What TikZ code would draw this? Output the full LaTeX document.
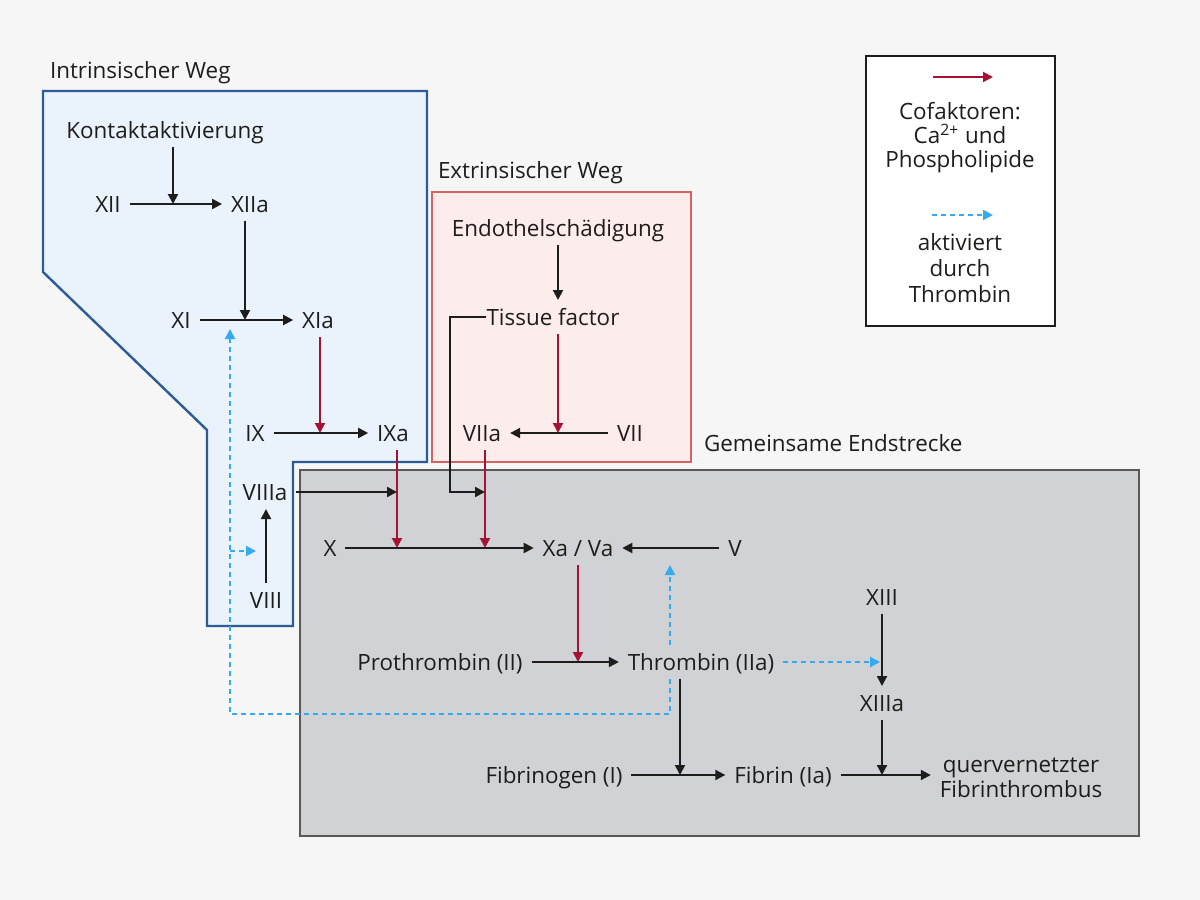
\documentclass[tikz,border=0pt]{standalone}
\usepackage{fontspec}
\setmainfont{Open Sans}
\usepackage{tikz}
\usetikzlibrary{positioning,arrows.meta}
\definecolor{colorintr}     {RGB}{44 ,92 ,150}
\definecolor{colorintrfill} {RGB}{234,242,251}
\definecolor{colorextr}     {RGB}{214,98 ,98 }
\definecolor{colorextrfill} {RGB}{252,236,236}
\definecolor{colorgem}      {RGB}{88 ,88 ,88 }
\definecolor{colorgemfill}  {RGB}{208,210,213}
\definecolor{colorcofak}    {RGB}{165,18 ,52 }
\definecolor{colorthromb}   {RGB}{52 ,170,240}
\definecolor{colortext}     {RGB}{29 ,29 ,27 }
\definecolor{colorbg}       {RGB}{246,246,246}

\begin{document}
\begin{tikzpicture}[
    x=0.5pt, y=-0.5pt,
    font={\fontsize{11.2}{12.5}\selectfont},
    >={Triangle[length=5pt,width=5pt]},
    base/.style={text=colortext,inner sep=0pt,outer sep=4.5pt,text height=8pt,text depth=0pt,align=center},
    title/.style={base,anchor=west,outer sep=0pt},
    conv/.style={->,line width=1pt,draw=colortext},
    cofak/.style={->,line width=1pt,draw=colorcofak},
    thromb/.style={->,line width=1pt,draw=colorthromb,dash pattern=on 2.5pt off 2pt},
    region/.style={line width=1.2pt},
]

    % Background
    \fill[colorbg] (0,0) rectangle (1200,900);
    \useasboundingbox (0,0) rectangle (1200,900);

    % Regions
    \draw[region,draw=colorintr,fill=colorintrfill] (43,91) -- (427,91) -- (427,462) -- (293,462)
        -- (293,626) -- (207,626) -- (207,430) -- (43,272) -- cycle;
    \draw[region,draw=colorextr,fill=colorextrfill] (432,192) rectangle (691,462);
    \draw[region,draw=colorgem,fill=colorgemfill] (300,470) rectangle (1139,836);
    \node[title] (intrtxt) at (50,70)  {Intrinsischer Weg};
    \node[title] (extrtxt) at (438,170) {Extrinsischer Weg};
    \node[title] (gemtxt)  at (704,443) {Gemeinsame Endstrecke};

    % Legend
    \draw[line width=1pt,draw=colortext,fill=white] (866,56) rectangle (1055,326);
    \coordinate (legcofak1)  at (933,77);
    \coordinate (legcofak2)  at (993,77);
    \coordinate (legthromb1) at (932,215);
    \coordinate (legthromb2) at (993,215);
    \draw[cofak]  (legcofak1)  -- (legcofak2);
    \draw[thromb] (legthromb1) -- (legthromb2);
    % multi-line nodes: placed by their last line
    \node[base,font={\fontsize{11.2}{12}\selectfont}] (cofaktxt)  at (960,159) {Cofaktoren:\\Ca\textsuperscript{2+} und\\Phospholipide};
    \node[base,font={\fontsize{11.2}{13}\selectfont}] (thrombtxt) at (960,294) {aktiviert\\durch\\Thrombin};

    % Nodes
    \node[base] (kontakt)    at (165,130) {Kontaktaktivierung};
    \node[base] (xii)        at (108,204) {XII};
    \node[base] (xiia)       at (250,204) {XIIa};
    \node[base] (xi)         at (181,320) {XI};
    \node[base] (xia)        at (318,320) {XIa};
    \node[base] (ix)         at (255,433) {IX};
    \node[base] (ixa)        at (393,433) {IXa};
    \node[base] (viiia)      at (265,492) {VIIIa};
    \node[base] (viii)       at (266,600) {VIII};
    \node[base] (endo)       at (558,228) {Endothelschädigung};
    \node[base] (tf)         at (553,317) {Tissue factor};
    \node[base] (viia)       at (482,433) {VIIa};
    \node[base] (vii)        at (630,433) {VII};
    \node[base] (x)          at (330,548) {X};
    \node[base] (xava)       at (578,548) {Xa / Va};
    \node[base] (v)          at (735,548) {V};
    \node[base] (prothr)     at (440,662) {Prothrombin (II)};
    \node[base] (thr)        at (701,662) {Thrombin (IIa)};
    \node[base] (xiii)       at (882,597) {XIII};
    \node[base] (xiiia)      at (882,703) {XIIIa};
    \node[base] (fibrinogen) at (554,775) {Fibrinogen (I)};
    \node[base] (fibrin)     at (783,775) {Fibrin (Ia)};
    \node[base,font={\fontsize{11.2}{12.5}\selectfont}] (quer) at (1021,789) {quervernetzter\\Fibrinthrombus};

    % Junctions on arrows
    \coordinate (kontaktin) at (173,204);
    \coordinate (xiiain)    at (245,320);
    \coordinate (xiain)     at (320,433);
    \coordinate (ixain)     at (397,548);
    \coordinate (tfin)      at (558,433);
    \coordinate (viiain)    at (485,548);
    \coordinate (tfbend)    at (450,492);
    \coordinate (xavain)    at (578,662);
    \coordinate (thrin)     at (680,775);
    \coordinate (xiiiain)   at (882,775);
    \coordinate (xiiiin)    at (880,662);
    \coordinate (thrup)     at (670,714);
    \coordinate (thrleft)   at (230,714);
    \coordinate (xibelow)   at (230,329);
    \coordinate (viiiin)    at (256,551);

    % Arrows intrinsic
    \draw[conv](xii) -- (xiia);
    \draw[conv](kontakt.south -| kontaktin) -- (kontaktin);
    \draw[conv](xi) -- (xia);
    \draw[conv](xiia.south -| xiiain) -- (xiiain);
    \draw[cofak](xia.south -| xiain) -- (xiain);
    \draw[conv](ix) -- (ixa);
    \draw[cofak](ixa.south -| ixain) -- (ixain);
    \draw[conv](viiia) -- (viiia -| ixain);
    \draw[conv](viii) -- (viii |- viiia.south);

    % Arrows extrinsic
    \draw[conv](endo.south -| tfin) -- (tf.north -| tfin);
    \draw[cofak](tf.south -| tfin) -- (tfin);
    \draw[conv](vii) -- (viia);
    \draw[cofak](viia.south -| viiain) -- (viiain);
    \draw[conv]([xshift=4pt]tf.west) -| (tfbend) -- (tfbend -| viiain);

    % Arrows common pathway
    \draw[conv](x) -- (xava);
    \draw[conv](v) -- (xava);
    \draw[cofak](xava.south -| xavain) -- (xavain);
    \draw[conv](prothr) -- (thr);
    \draw[conv](thr.south -| thrin) -- (thrin);
    \draw[conv](fibrinogen) -- (fibrin);
    \draw[conv](fibrin) -- (fibrin -| quer.west);
    \draw[conv](xiii) -- (xiiia);
    \draw[conv](xiiia) -- (xiiiain);

    % Thrombin feedback
    \draw[thromb](thr) -- (xiiiin);
    \draw[thromb](thr.north -| thrup) -- (xava.south -| thrup);
    \draw[thromb](thr.south -| thrup) -- (thrup) -- (thrleft) -- (xibelow);
    \draw[thromb](thrleft |- viiiin) -- (viiiin);

\end{tikzpicture}
\end{document}
